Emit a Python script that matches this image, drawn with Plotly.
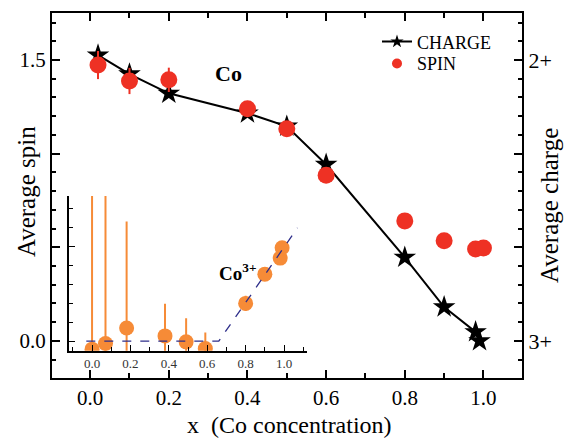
import plotly.graph_objects as go

# ---- data ----
charge_x = [0.02, 0.10, 0.20, 0.40, 0.50, 0.60, 0.80, 0.90, 0.98, 0.99]
charge_y = [1.526, 1.425, 1.322, 1.216, 1.146, 0.942, 0.446, 0.181, 0.048, 0.0]

spin_x = [0.02, 0.10, 0.20, 0.40, 0.50, 0.60, 0.80, 0.90, 0.98, 1.00]
spin_y = [1.473, 1.388, 1.394, 1.240, 1.133, 0.885, 0.641, 0.535, 0.491, 0.496]
spin_err = [0.075, 0.07, 0.065, 0, 0, 0, 0, 0, 0, 0]

inset_x = [0.0, 0.07, 0.18, 0.38, 0.49, 0.59, 0.80, 0.90, 0.98, 0.99]
inset_y = [-0.084, -0.025, 0.14, 0.056, -0.007, -0.077, 0.40, 0.71, 0.88, 0.99]
inset_err = [1.8, 1.8, 1.126, 0.34, 0.25, 0.17, 0.08, 0, 0, 0]

guide_x = [-0.03, 0.66, 1.07]
guide_y = [0.0, 0.0, 1.20]

main_ticks_x = [0.0, 0.2, 0.4, 0.6, 0.8, 1.0]
main_ticks_x_text = ["0.0", "0.2", "0.4", "0.6", "0.8", "1.0"]
labelled_y = [0.0, 1.5]
left_ticktext = ["0.0", "1.5"]
right_ticktext = ["3+", "2+"]
unlabelled_y = [0.5, 1.0]
inset_ticks_x = [0.0, 0.2, 0.4, 0.6, 0.8, 1.0]
inset_ticks_x_text = ["0.0", "0.2", "0.4", "0.6", "0.8", "1.0"]

RED = "#EE3124"
ORANGE = "#F68B37"
NAVY = "#2E2E8A"
FONT = "Liberation Serif"
YR = [-0.198, 1.751]

fig = go.Figure()

# main CHARGE (stars + line)
fig.add_trace(go.Scatter(
    x=charge_x, y=charge_y, mode="lines+markers",
    line=dict(color="black", width=2),
    marker=dict(symbol="star", size=17, color="black"),
    showlegend=False, xaxis="x", yaxis="y"))

# main SPIN (red circles)
fig.add_trace(go.Scatter(
    x=spin_x, y=spin_y, mode="markers",
    marker=dict(symbol="circle", size=17, color=RED),
    error_y=dict(type="data", array=spin_err, color=RED, thickness=2, width=0),
    showlegend=False, xaxis="x", yaxis="y"))

# legend entries (two single-item legends for exact row placement)
fig.add_trace(go.Scatter(
    x=[None], y=[None], mode="lines+markers", name="CHARGE",
    line=dict(color="black", width=2),
    marker=dict(symbol="star", size=10, color="black"),
    xaxis="x", yaxis="y", legend="legend"))
fig.add_trace(go.Scatter(
    x=[None], y=[None], mode="markers", name="SPIN",
    marker=dict(symbol="circle", size=10, color=RED),
    xaxis="x", yaxis="y", legend="legend2"))

# dummies so the extra overlaid axes get drawn
for ya in ["y2", "y4", "y5"]:
    fig.add_trace(go.Scatter(x=[None], y=[None], xaxis="x", yaxis=ya,
                             showlegend=False, hoverinfo="skip"))

# inset
fig.add_trace(go.Scatter(
    x=inset_x, y=inset_y, mode="markers",
    marker=dict(symbol="circle", size=15, color=ORANGE),
    error_y=dict(type="data", array=inset_err, color=ORANGE, thickness=2, width=0),
    showlegend=False, xaxis="x3", yaxis="y3"))
fig.add_trace(go.Scatter(
    x=guide_x, y=guide_y, mode="lines",
    line=dict(color=NAVY, width=1.3, dash="dash"),
    showlegend=False, xaxis="x3", yaxis="y3"))

axis_common = dict(showgrid=False, zeroline=False, showline=True,
                   linecolor="black", linewidth=2, ticks="inside",
                   tickcolor="black", tickwidth=2)
minor_y = dict(tickmode="linear", tick0=0, dtick=0.1, ticks="inside",
               ticklen=4, tickwidth=1.5, tickcolor="black")

fig.update_layout(
    width=571, height=439,
    margin=dict(l=52, r=49, t=11, b=61),
    paper_bgcolor="white", plot_bgcolor="white",
    font=dict(family=FONT, color="black"),
    xaxis=dict(**axis_common, range=[-0.097, 1.098], mirror="ticks",
               tickmode="array", tickvals=main_ticks_x, ticktext=main_ticks_x_text,
               ticklen=8, tickfont=dict(size=21),
               minor=dict(tickmode="linear", tick0=0, dtick=0.1, ticks="inside",
                          ticklen=5, tickwidth=1.5, tickcolor="black")),
    yaxis=dict(**axis_common, range=YR,
               tickmode="array", tickvals=labelled_y, ticktext=left_ticktext,
               ticklen=8, tickfont=dict(size=21), minor=minor_y),
    yaxis2=dict(**axis_common, range=YR, overlaying="y", side="right",
                tickmode="array", tickvals=labelled_y, ticktext=right_ticktext,
                ticklen=8, tickfont=dict(size=22), minor=minor_y),
    yaxis4=dict(showgrid=False, zeroline=False, showline=False, range=YR,
                overlaying="y", side="left", ticks="inside", ticklen=8,
                tickwidth=2, tickcolor="black", tickmode="array",
                tickvals=unlabelled_y, showticklabels=False),
    yaxis5=dict(showgrid=False, zeroline=False, showline=False, range=YR,
                overlaying="y", side="right", ticks="inside", ticklen=8,
                tickwidth=2, tickcolor="black", tickmode="array",
                tickvals=unlabelled_y, showticklabels=False),
    xaxis3=dict(showgrid=False, zeroline=False, showline=True, linecolor="black",
                linewidth=1.5, ticks="inside", tickcolor="black", tickwidth=1.2,
                ticklen=6, domain=[0.0362, 0.5419], anchor="y3",
                range=[-0.12, 1.118], tickmode="array",
                tickvals=inset_ticks_x, ticktext=inset_ticks_x_text,
                tickfont=dict(size=13, color="#333333"),
                minor=dict(tickmode="linear", tick0=0, dtick=0.1, ticks="inside",
                           ticklen=4, tickwidth=1.2, tickcolor="black")),
    yaxis3=dict(showgrid=False, zeroline=False, showline=True, linecolor="black",
                linewidth=1.5, ticks="inside", tickcolor="black", tickwidth=1.2,
                ticklen=6, domain=[0.0744, 0.4986], anchor="x3",
                range=[-0.102, 1.537], tickmode="array", tickvals=[0.0, 1.0],
                showticklabels=False,
                minor=dict(tickmode="linear", tick0=0, dtick=0.2, ticks="inside",
                           ticklen=4, tickwidth=1.2, tickcolor="black")),
    legend=dict(x=(377 - 52) / 470.0, y=(378 - 40) / 367.0, xanchor="left",
                yanchor="middle", bgcolor="rgba(0,0,0,0)",
                font=dict(size=18, family=FONT)),
    legend2=dict(x=(377 - 52) / 470.0, y=(378 - 62) / 367.0, xanchor="left",
                 yanchor="middle", bgcolor="rgba(0,0,0,0)",
                 font=dict(size=18, family=FONT)),
    annotations=[
        dict(text="x\u00a0 (Co concentration)", xref="paper", yref="paper",
             x=0.505, y=(378 - 425) / 367.0, xanchor="center", yanchor="middle",
             showarrow=False, font=dict(size=24, family=FONT)),
        dict(text="Average spin", xref="paper", yref="paper",
             x=(26 - 52) / 470.0, y=(378 - 191) / 367.0, textangle=-90,
             xanchor="center", yanchor="middle",
             showarrow=False, font=dict(size=25, family=FONT)),
        dict(text="Average charge", xref="paper", yref="paper",
             x=(550 - 52) / 470.0, y=(378 - 205) / 367.0, textangle=-90,
             xanchor="center", yanchor="middle",
             showarrow=False, font=dict(size=25, family=FONT)),
        dict(text="<b>Co</b>", xref="paper", yref="paper",
             x=(228 - 52) / 470.0, y=(378 - 72) / 367.0,
             xanchor="center", yanchor="middle",
             showarrow=False, font=dict(size=22, family=FONT)),
        dict(text="<b>Co<sup>3+</sup></b>", xref="paper", yref="paper",
             x=(217 - 52) / 470.0, y=(378 - 271) / 367.0,
             xanchor="left", yanchor="middle",
             showarrow=False, font=dict(size=19, family=FONT)),
    ],
)

fig.write_html(
    "out.html",
    config={"displayModeBar": False},
    post_script="document.body.style.margin='0';document.body.style.overflow='hidden';",
)
